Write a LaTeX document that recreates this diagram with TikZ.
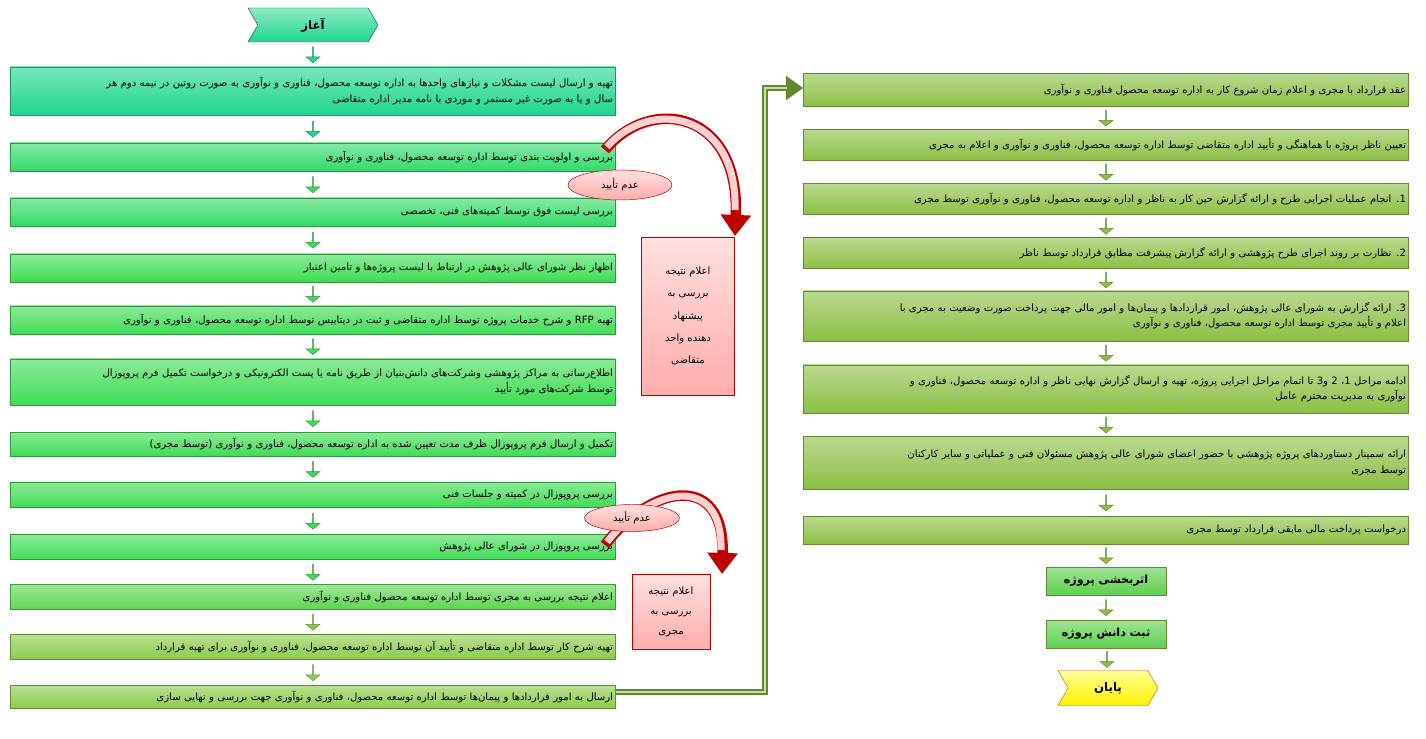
\documentclass[tikz,border=0pt]{standalone}
\usepackage{fontspec}
\newfontfamily\fa{DejaVu Sans}[Script=Arabic]
\usetikzlibrary{shapes.arrows,shapes.symbols,shapes.geometric,calc,arrows.meta}
\TeXXeTstate=1
\newcommand{\RR}[1]{\beginR #1\endR}
\newcommand{\LL}[1]{\beginL #1\endL}
\definecolor{tealg}{HTML}{1FD68E}
\definecolor{midg}{HTML}{3FDC55}
\definecolor{lg}{HTML}{8CCB4A}
\definecolor{og}{HTML}{8DBF45}
\definecolor{ogl}{HTML}{C6E0A2}
\newdimen\pxu \pxu=0.03cm
\tikzset{
 box/.style={draw=#1!70!black, top color=#1!60!white, bottom color=#1, minimum height=28\pxu, text width=600\pxu, align=right, font=\fa\fontsize{8.6}{13}\selectfont, inner sep=2pt},
 rbox/.style={box=og, text width=600\pxu},
 sbox/.style={draw=og!70!black, top color=midg!60!og!60!white, bottom color=midg!60!og, minimum height=28\pxu, text width=115\pxu, align=center, font=\fa\bfseries\fontsize{9.5}{12}\selectfont, inner sep=2pt},
 darr/.style={single arrow, draw=#1!70!black, fill=#1, rotate=-90, minimum height=16\pxu, single arrow head extend=3pt, minimum width=14\pxu, inner sep=0pt, single arrow tip angle=100},
 pink/.style={draw=red!70!black, top color=pink!50!white, bottom color=pink!90!red, align=center, font=\fa\fontsize{8.6}{17}\selectfont},
}
\begin{document}
\begin{tikzpicture}[x=0.03cm,y=-0.03cm]
\useasboundingbox (0,0) rectangle (1426,739);
% start
\node[signal, signal from=west and east, signal pointer angle=120, draw=teal!70!black, top color=tealg!50!white, bottom color=tealg, minimum width=130\pxu, minimum height=34\pxu, font=\fa\bfseries\fontsize{10}{12}\selectfont] (start) at (313,25) {\RR{آغاز}};
% left column
\node[box=tealg, minimum height=48\pxu] (l1) at (313,91) {\RR{تهیه و ارسال لیست مشکلات و نیازهای واحدها به اداره توسعه محصول، فناوری و نوآوری به صورت روتین در نیمه دوم هر}\\\RR{سال و یا به صورت غیر مستمر و موردی با نامه مدیر اداره متقاضی}};
\node[box=midg!60!tealg] (l2) at (313,157) {\RR{بررسی و اولویت بندی توسط اداره توسعه محصول، فناوری و نوآوری}};
\node[box=midg!70!tealg] (l3) at (313,212) {\RR{بررسی لیست فوق توسط کمیته‌های فنی، تخصصی}};
\node[box=midg] (l4) at (313,268) {\RR{اظهار نظر شورای عالی پژوهش در ارتباط با لیست پروژه‌ها و تامین اعتبار}};
\node[box=midg] (l5) at (313,320) {\RR{تهیه \LL{RFP} و شرح خدمات پروژه توسط اداره متقاضی و ثبت در دیتابیس توسط اداره توسعه محصول، فناوری و نوآوری}};
\node[box=midg, minimum height=46\pxu] (l6) at (313,382) {\RR{اطلاع‌رسانی به مراکز پژوهشی وشرکت‌های دانش‌بنیان از طریق نامه یا پست الکترونیکی و درخواست تکمیل فرم پروپوزال}\\\RR{توسط شرکت‌های مورد تأیید}};
\node[box=midg, minimum height=24\pxu] (l7) at (313,444) {\RR{تکمیل و ارسال فرم پروپوزال ظرف مدت تعیین شده به اداره توسعه محصول، فناوری و نوآوری (توسط مجری)}};
\node[box=midg, minimum height=25\pxu] (l8) at (313,495) {\RR{بررسی پروپوزال در کمیته و جلسات فنی}};
\node[box=midg, minimum height=25\pxu] (l9) at (313,547) {\RR{بررسی پروپوزال در شورای عالی پژوهش}};
\node[box=midg!60!lg, minimum height=25\pxu] (l10) at (313,597) {\RR{اعلام نتیجه بررسی به مجری توسط اداره توسعه محصول فناوری و نوآوری}};
\node[box=lg, minimum height=25\pxu] (l11) at (313,647) {\RR{تهیه شرح کار توسط اداره متقاضی و تأیید آن توسط اداره توسعه محصول، فناوری و نوآوری برای تهیه قرارداد}};
\node[box=lg, minimum height=23\pxu] (l12) at (313,697) {\RR{ارسال به امور قراردادها و پیمان‌ها توسط اداره توسعه محصول، فناوری و نوآوری جهت بررسی و نهایی سازی}};
\foreach \a/\b/\c in {start/l1/tealg,l1/l2/tealg,l2/l3/midg,l3/l4/midg,l4/l5/midg,l5/l6/midg,l6/l7/midg,l7/l8/midg,l8/l9/midg,l9/l10/midg,l10/l11/lg,l11/l12/lg}
 \node[darr=\c] (a\b) at ($(\a.south)!0.5!(\b.north)$) {};
% right column
\node[rbox, minimum height=33\pxu] (r1) at (1106,90) {\RR{عقد قرارداد با مجری و اعلام زمان شروع کار به اداره توسعه محصول فناوری و نوآوری}};
\node[rbox, minimum height=31\pxu] (r2) at (1106,145) {\RR{تعیین ناظر پروژه با هماهنگی و تأیید اداره متقاضی توسط اداره توسعه محصول، فناوری و نوآوری و اعلام به مجری}};
\node[rbox, minimum height=31\pxu] (r3) at (1106,199) {\RR{1. انجام عملیات اجرایی طرح و ارائه گزارش حین کار به ناظر و اداره توسعه محصول، فناوری و نوآوری توسط مجری}};
\node[rbox, minimum height=31\pxu] (r4) at (1106,253) {\RR{2. نظارت بر روند اجرای طرح پژوهشی و ارائه گزارش پیشرفت مطابق قرارداد توسط ناظر}};
\node[rbox, minimum height=50\pxu] (r5) at (1106,316) {\RR{3. ارائه گزارش به شورای عالی پژوهش، امور قراردادها و پیمان‌ها و امور مالی جهت پرداخت صورت وضعیت به مجری با}\\\RR{اعلام و تأیید مجری توسط اداره توسعه محصول، فناوری و نوآوری}};
\node[rbox, minimum height=48\pxu] (r6) at (1106,389) {\RR{ادامه مراحل 1، 2 و3 تا اتمام مراحل اجرایی پروژه، تهیه و ارسال گزارش نهایی ناظر و اداره توسعه محصول، فناوری و}\\\RR{نوآوری به مدیریت محترم عامل}};
\node[rbox, minimum height=53\pxu] (r7) at (1106,463) {\RR{ارائه سمینار دستاوردهای پروژه پژوهشی با حضور اعضای شورای عالی پژوهش مسئولان فنی و عملیاتی و سایر کارکنان}\\\RR{توسط مجری}};
\node[rbox, minimum height=28\pxu] (r8) at (1106,530) {\RR{درخواست پرداخت مالی مابقی قرارداد توسط مجری}};
\node[sbox] (r9) at (1106,581) {\RR{اثربخشی پروژه}};
\node[sbox] (r10) at (1106,634) {\RR{ثبت دانش پروژه}};
\node[signal, signal from=west and east, signal pointer angle=120, draw=orange!80!black, top color=yellow!40, bottom color=yellow!90!orange, minimum width=100\pxu, minimum height=35\pxu, font=\fa\bfseries\fontsize{10}{12}\selectfont] (end) at (1108,688) {\RR{پایان}};
\foreach \a/\b in {r1/r2,r2/r3,r3/r4,r4/r5,r5/r6,r6/r7,r7/r8,r8/r9,r9/r10,r10/end}
 \node[darr=og] (a\b) at ($(\a.south)!0.5!(\b.north)$) {};
% connector
\coordinate (c1) at (765,692);
\coordinate (c2) at (765,88);
\draw[draw=og!70!black, line width=5pt, -{Triangle[length=15pt,width=20pt]}] (l12.east|-c1) -- (c1) -- (c2) -- (r1.west|-c2);
\draw[draw=ogl, line width=2.5pt] (l12.east|-c1) -- (c1) -- (c2) -- ([xshift=-14pt]r1.west|-c2);
% reject loop 1
\node[pink, minimum width=93\pxu, minimum height=158\pxu, font=\fa\fontsize{8.6}{19}\selectfont] (p1) at (688,316) {\RR{اعلام نتیجه}\\\RR{بررسی به}\\\RR{پیشنهاد}\\\RR{دهنده واحد}\\\RR{متقاضی}};
\draw[red!75!black, line width=9pt, -{Triangle[length=18pt,width=25pt]}] (605,150) .. controls (650,95) and (740,110) .. (735,236);
\draw[pink!70!white, line width=6pt] (607,147) .. controls (650,97) and (738,112) .. (735,210);
\node[ellipse, pink, minimum width=104\pxu, minimum height=30\pxu, inner sep=0pt, font=\fa\fontsize{8.6}{12}\selectfont] (o1) at (620,185) {\RR{عدم تأیید}};
% reject loop 2
\node[pink, minimum width=78\pxu, minimum height=75\pxu, font=\fa\fontsize{8.6}{17}\selectfont] (p2) at (671,612) {\RR{اعلام نتیجه}\\\RR{بررسی به}\\\RR{مجری}};
\draw[red!75!black, line width=9pt, -{Triangle[length=18pt,width=25pt]}] (605,545) .. controls (650,485) and (725,470) .. (722,574);
\draw[pink!70!white, line width=6pt] (607,542) .. controls (650,487) and (723,472) .. (721,550);
\node[ellipse, pink, minimum width=95\pxu, minimum height=27\pxu, inner sep=0pt, font=\fa\fontsize{8.6}{12}\selectfont] (o2) at (632,518) {\RR{عدم تأیید}};
\end{tikzpicture}
\end{document}
